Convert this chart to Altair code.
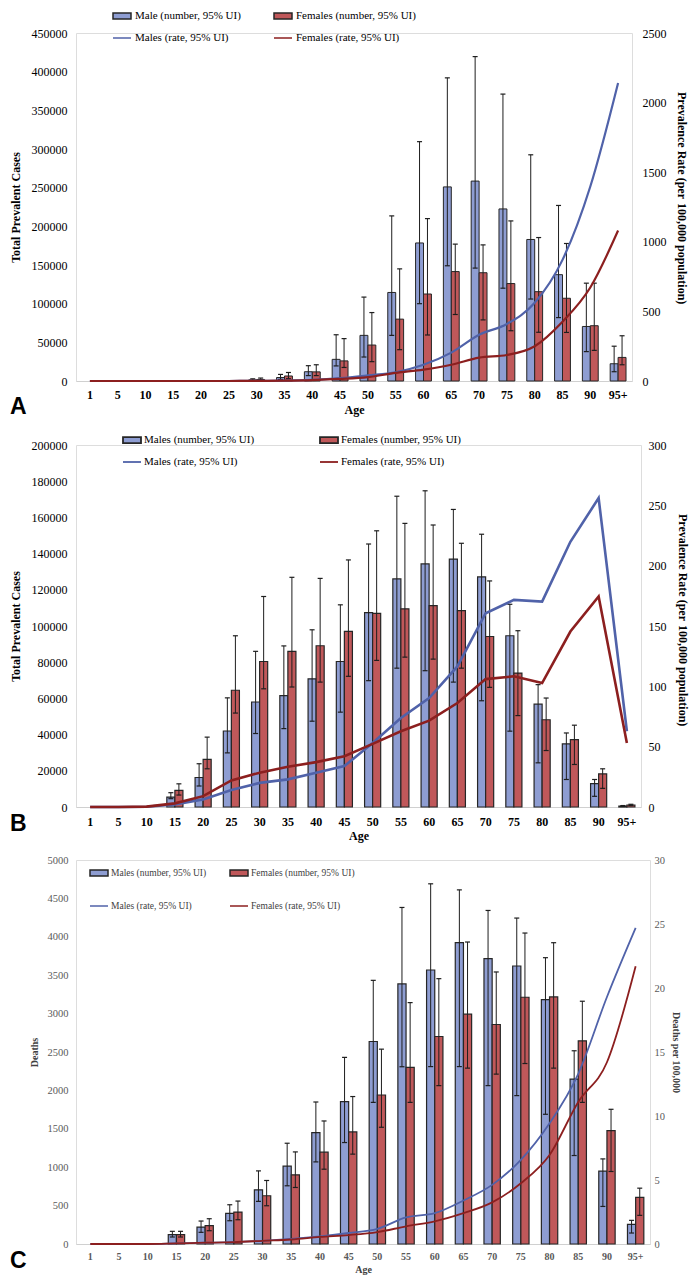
import altair as alt
import pandas as pd

AGES = ["1", "5", "10", "15", "20", "25", "30", "35", "40", "45",
        "50", "55", "60", "65", "70", "75", "80", "85", "90", "95+"]
SEXES = ["Male", "Female"]

# ---------------- Panel A : prevalent cases ----------------
A_male_num = [0, 0, 0, 0, 0, 0, 1500, 4500, 12000, 28000, 59000, 114500, 178500, 251000, 258500, 222500, 183000, 137500, 70500, 22300]
A_female_num = [0, 0, 0, 0, 0, 0, 2000, 6500, 11800, 26000, 46500, 80000, 112500, 141500, 140000, 126000, 115500, 107000, 71500, 30500]
A_male_lo = [0, 0, 0, 0, 0, 0, 500, 2000, 7000, 19500, 31000, 59000, 100000, 149000, 146000, 120000, 106000, 82000, 38000, 12000]
A_male_hi = [0, 0, 0, 0, 0, 0, 2800, 8500, 19800, 59800, 108500, 213500, 309500, 392000, 419500, 371000, 292500, 227000, 126500, 45000]
A_female_lo = [0, 0, 0, 0, 0, 0, 800, 3000, 7000, 17500, 25000, 40500, 59500, 86000, 79000, 65000, 63000, 62800, 39600, 21000]
A_female_hi = [0, 0, 0, 0, 0, 0, 3800, 11000, 21000, 54800, 88500, 145000, 210000, 177000, 176000, 207000, 185500, 177800, 126500, 58500]
A_male_rate = [0, 0, 0, 0, 0, 0, 1, 3, 8, 20, 40, 63, 117, 204, 332, 410, 562, 870, 1397, 2141]
A_female_rate = [0, 0, 0, 0, 0, 0, 1, 3, 7, 15, 28, 58, 82, 117, 168, 187, 250, 426, 672, 1081]
A_legend = ["Male (number, 95% UI)", "Females (number, 95% UI)", "Males (rate, 95% UI)", "Females (rate, 95% UI)"]

# ---------------- Panel B : prevalent cases ----------------
B_male_num = [0, 0, 0, 5500, 16300, 42000, 58000, 61500, 70800, 80400, 107400, 126000, 134300, 137000, 127100, 94600, 56800, 34900, 12900, 500]
B_female_num = [0, 0, 0, 9200, 26300, 64500, 80400, 86000, 89100, 97000, 107000, 109500, 111300, 108500, 94200, 74000, 48200, 37200, 18300, 1100]
B_male_lo = [0, 0, 0, 4600, 11600, 29900, 40600, 43300, 47400, 52400, 69800, 76700, 75300, 69000, 58700, 41900, 24400, 15200, 5900, 300]
B_male_hi = [0, 0, 0, 7900, 23900, 60300, 86000, 89000, 97900, 111700, 145300, 171700, 174700, 164400, 150700, 112000, 67600, 40900, 15200, 800]
B_female_lo = [0, 0, 0, 6600, 21100, 51900, 65300, 66300, 69000, 72200, 81000, 82800, 81700, 76700, 66100, 50500, 31200, 23500, 10300, 800]
B_female_hi = [0, 0, 0, 12800, 38600, 94600, 116300, 126900, 126300, 136500, 152600, 156700, 155800, 145700, 124900, 97400, 60200, 45200, 21100, 1500]
B_male_rate = [0, 0, 0.2, 2.2, 6.3, 14, 20, 22.9, 28.4, 33.9, 53, 73.8, 90.3, 116.5, 160.6, 171.6, 170.2, 219.8, 256, 62.8]
B_female_rate = [0, 0, 0.3, 3, 9, 22, 28.4, 33.3, 37.2, 42.1, 52.3, 62.8, 71.6, 86.2, 106, 108.3, 102.7, 145.4, 174.4, 53.1]
B_legend = ["Males (number, 95% UI)", "Females (number, 95% UI)", "Males (rate, 95% UI)", "Females (rate, 95% UI)"]

# ---------------- Panel C : deaths ----------------
C_male_num = [0, 0, 0, 121, 221, 398, 706, 1013, 1451, 1854, 2637, 3386, 3568, 3923, 3715, 3620, 3183, 2147, 948, 256]
C_female_num = [0, 0, 0, 121, 238, 416, 628, 901, 1195, 1459, 1940, 2299, 2702, 2992, 2858, 3213, 3217, 2646, 1477, 607]
C_male_lo = [0, 0, 0, 91, 152, 303, 555, 758, 1069, 1321, 1844, 2308, 2310, 2310, 2062, 1932, 1689, 1152, 489, 143]
C_male_hi = [0, 0, 0, 165, 299, 511, 952, 1312, 1849, 2430, 3433, 4382, 4690, 4611, 4343, 4244, 3728, 2516, 1108, 308]
C_female_lo = [0, 0, 0, 91, 173, 316, 498, 736, 974, 1170, 1520, 1844, 2062, 2290, 2212, 2350, 2290, 1844, 944, 373]
C_female_hi = [0, 0, 0, 165, 329, 559, 827, 1199, 1602, 1920, 2537, 3143, 3455, 3932, 3542, 4049, 3923, 3161, 1754, 727]
C_male_rate = [0, 0, 0, 0.05, 0.1, 0.15, 0.25, 0.4, 0.6, 0.86, 1.19, 2.08, 2.41, 3.4, 4.62, 6.57, 9.43, 13.3, 19.3, 24.7]
C_female_rate = [0, 0, 0, 0.05, 0.1, 0.15, 0.25, 0.35, 0.55, 0.7, 0.93, 1.38, 1.77, 2.41, 3.25, 4.75, 6.96, 11.1, 14.2, 21.7]
C_legend = ["Males (number, 95% UI)", "Females (number, 95% UI)", "Males (rate, 95% UI)", "Females (rate, 95% UI)"]

RATE_TITLE_PARTS = ["Prevalence Rate (per", "100,000 population)"]

SERIF = "Liberation Serif"
BAR_BLUE = "#8e9dd2"
BAR_RED = "#c0585a"
LINE_BLUE = "#5062a9"
LINE_RED = "#8c1f1f"
ERR = "#1e1e1e"
RECT = "M-1.5,-0.5L1.5,-0.5L1.5,0.5L-1.5,0.5Z"
LINEP = "M-1.5,0L1.5,0"


def make_panel(letter, male_num, female_num, male_lo, male_hi, female_lo, female_hi,
               male_rate, female_rate, legend_labels, st):
    rows = []
    for i, age in enumerate(AGES):
        rows.append({"age": age, "sex": "Male", "num": male_num[i], "lo": male_lo[i],
                     "hi": male_hi[i], "rate": male_rate[i]})
        rows.append({"age": age, "sex": "Female", "num": female_num[i], "lo": female_lo[i],
                     "hi": female_hi[i], "rate": female_rate[i]})
    df = pd.DataFrame(rows)
    W, H = st["w"], st["h"]

    x = alt.X("age:N", sort=AGES,
              scale=alt.Scale(domain=AGES, paddingInner=0.43, paddingOuter=0.215),
              axis=alt.Axis(title="Age", labelAngle=0, labelFont=SERIF, labelFontWeight="bold",
                            labelFontSize=st["xfs"], labelColor=st["lc"], labelPadding=st["xlp"],
                            titleFont=SERIF, titleFontWeight="bold", titleFontSize=st["tfs"],
                            titleColor=st["tc"], titlePadding=st["xtp"],
                            domain=True, domainColor="#d0d0d0", domainWidth=1,
                            ticks=False, grid=False))
    xo = alt.XOffset("sex:N", scale=alt.Scale(domain=SEXES, paddingInner=0, paddingOuter=0))
    ycount = alt.Scale(domain=[0, st["ymax"]], nice=False, zero=True)
    yrate = alt.Scale(domain=[0, st["rmax"]], nice=False, zero=True)

    left_axis = alt.Axis(orient="left", values=list(range(0, st["ymax"] + 1, st["ystep"])), format="d",
                         title=st["ltitle"], labelFont=SERIF, labelFontSize=st["fs"], labelColor=st["lc"],
                         labelPadding=st["llp"], titleFont=SERIF, titleFontSize=st["tfs"],
                         titleFontWeight="bold", titleColor=st["tc"], titlePadding=st["ltp"],
                         domain=False, ticks=False, grid=False)
    raxis_kw = dict(orient="right", values=list(range(0, st["rmax"] + 1, st["rstep"])), format="d",
                    labelFont=SERIF, labelFontSize=st["fs"], labelColor=st["lc"],
                    labelPadding=st["rlp"], domain=False, ticks=False, grid=False)
    if st["rtitle"] is not None:
        raxis_kw.update(title=st["rtitle"], titleFont=SERIF, titleFontSize=st["tfs"],
                        titleFontWeight="bold", titleColor=st["tc"], titlePadding=st["rtp"])
    else:
        raxis_kw.update(title=None)
    right_axis = alt.Axis(**raxis_kw)

    base = alt.Chart(df)
    bars = base.transform_filter("datum.num > 0").mark_bar(
        stroke="#262626", strokeWidth=st["bsw"], opacity=1
    ).encode(
        x=x, xOffset=xo,
        y=alt.Y("num:Q", scale=ycount, axis=left_axis, stack=None),
        fill=alt.condition(alt.datum.sex == "Male", alt.value(BAR_BLUE), alt.value(BAR_RED)),
    )
    whisk = base.transform_filter("datum.hi > 0").mark_rule(color=ERR, strokeWidth=1, opacity=1).encode(
        x=x, xOffset=xo, y=alt.Y("lo:Q", scale=ycount, axis=left_axis), y2="hi:Q")
    cap_lo = base.transform_filter("datum.hi > 0").mark_tick(
        color=ERR, thickness=1.2, size=st["cap"], opacity=1
    ).encode(x=x, xOffset=xo, y=alt.Y("lo:Q", scale=ycount, axis=left_axis))
    cap_hi = base.transform_filter("datum.hi > 0").mark_tick(
        color=ERR, thickness=1.2, size=st["cap"], opacity=1
    ).encode(x=x, xOffset=xo, y=alt.Y("hi:Q", scale=ycount, axis=left_axis))
    count_layer = alt.layer(bars, whisk, cap_lo, cap_hi)

    line_m = base.transform_filter(alt.datum.sex == "Male").mark_line(
        color=LINE_BLUE, strokeWidth=st["lw"], interpolate=st["interp"]
    ).encode(x=x, y=alt.Y("rate:Q", scale=yrate, axis=right_axis))
    line_f = base.transform_filter(alt.datum.sex == "Female").mark_line(
        color=LINE_RED, strokeWidth=st["lw"], interpolate=st["interp"]
    ).encode(x=x, y=alt.Y("rate:Q", scale=yrate, axis=right_axis))
    rate_layer = alt.layer(line_m, line_f)

    legend = alt.Legend(title=None, orient="none", legendX=st["legx"], legendY=st["legy"],
                        direction="horizontal", columns=2, gridAlign="each",
                        labelFont=SERIF, labelFontSize=st["legfs"], labelColor=st["leglc"],
                        labelOffset=st["lego"], rowPadding=st["legrp"], columnPadding=st["legcp"],
                        symbolSize=144, symbolStrokeWidth=st["legsw"], padding=0, labelLimit=300)
    leg_df = pd.DataFrame({"series": legend_labels})
    leg = alt.Chart(leg_df).transform_filter("false").mark_point(
        filled=True, opacity=1, size=144, strokeWidth=st["legsw"]
    ).encode(
        fill=alt.Fill("series:N", scale=alt.Scale(domain=legend_labels,
                      range=[BAR_BLUE, BAR_RED, "transparent", "transparent"]), legend=legend),
        stroke=alt.Stroke("series:N", scale=alt.Scale(domain=legend_labels,
                          range=["#262626", "#262626", LINE_BLUE, LINE_RED]), legend=legend),
        shape=alt.Shape("series:N", scale=alt.Scale(domain=legend_labels,
                        range=[RECT, RECT, LINEP, LINEP]), legend=legend),
    )

    letter_layer = alt.Chart(pd.DataFrame({"t": [letter]})).mark_text(
        align="left", baseline="alphabetic", font="Liberation Sans", fontWeight="bold",
        fontSize=23, color="#000"
    ).encode(x=alt.value(st["lx"]), y=alt.value(H + st["ly"]), text="t:N")

    layers = [count_layer, rate_layer, leg, letter_layer]

    if st["rtitle"] is None:
        # long right-hand title drawn as two rotated halves meeting at the title centre
        xc = W + st["rtx"]
        yc = H / 2 + st["rty"]
        for part, align, dy in ((RATE_TITLE_PARTS[0], "right", -2), (RATE_TITLE_PARTS[1], "left", 2)):
            layers.append(alt.Chart(pd.DataFrame({"t": [part]})).mark_text(
                angle=90, align=align, baseline="middle", font=SERIF, fontWeight="bold",
                fontSize=st["tfs"], color=st["tc"]
            ).encode(x=alt.value(xc), y=alt.value(yc + dy), text="t:N"))

    return alt.layer(*layers).resolve_scale(y="independent").properties(width=W, height=H)


stA = dict(w=556, h=348, ymax=450000, ystep=50000, rmax=2500, rstep=500,
           ltitle="Total Prevalent Cases", rtitle=None, rtx=50, rty=-6,
           fs=12, xfs=12, tfs=12, lc="#000", tc="#000", llp=9, ltp=9, rlp=10, rtp=8,
           xlp=8, xtp=4, bsw=1, cap=5, lw=2.2, interp="monotone",
           legx=39, legy=-24, legfs=11, leglc="#000", lego=6, legrp=9, legcp=30, legsw=1.5,
           lx=-66, ly=33)
stB = dict(w=565, h=362, ymax=200000, ystep=20000, rmax=300, rstep=50,
           ltitle="Total Prevalent Cases", rtitle=None, rtx=42, rty=-3,
           fs=12, xfs=12, tfs=12, lc="#000", tc="#000", llp=9, ltp=9, rlp=7, rtp=8,
           xlp=9, xtp=3, bsw=1.2, cap=5, lw=2.6, interp="linear",
           legx=49, legy=-12, legfs=11, leglc="#000", lego=5, legrp=8, legcp=61, legsw=1.8,
           lx=-66, ly=24)
stC = dict(w=574, h=384, ymax=5000, ystep=500, rmax=30, rstep=5,
           ltitle="Deaths", rtitle="Deaths per 100,000", rtx=0, rty=0,
           fs=10.5, xfs=10, tfs=10, lc="#595959", tc="#404040", llp=8, ltp=8, rlp=4, rtp=6,
           xlp=7, xtp=3, bsw=1.2, cap=5, lw=1.8, interp="monotone",
           legx=16, legy=6, legfs=9.5, leglc="#404040", lego=5, legrp=20, legcp=20, legsw=1.5,
           lx=-66, ly=24)

pA = make_panel("A", A_male_num, A_female_num, A_male_lo, A_male_hi, A_female_lo, A_female_hi,
                A_male_rate, A_female_rate, A_legend, stA)
pB = make_panel("B", B_male_num, B_female_num, B_male_lo, B_male_hi, B_female_lo, B_female_hi,
                B_male_rate, B_female_rate, B_legend, stB)
pC = make_panel("C", C_male_num, C_female_num, C_male_lo, C_male_hi, C_female_lo, C_female_hi,
                C_male_rate, C_female_rate, C_legend, stC)

RES = dict(x="independent", y="independent", xOffset="independent",
           fill="independent", stroke="independent", shape="independent")
LRES = dict(fill="independent", stroke="independent", shape="independent")

chart = alt.concat(pA, pB, pC, columns=1, spacing=12, align="none").resolve_scale(**RES).resolve_legend(**LRES)
chart = chart.properties(padding=0).configure_view(strokeWidth=0, stroke="transparent").configure(font=SERIF)

chart.save("out.html", embed_options={"renderer": "svg", "actions": False})
